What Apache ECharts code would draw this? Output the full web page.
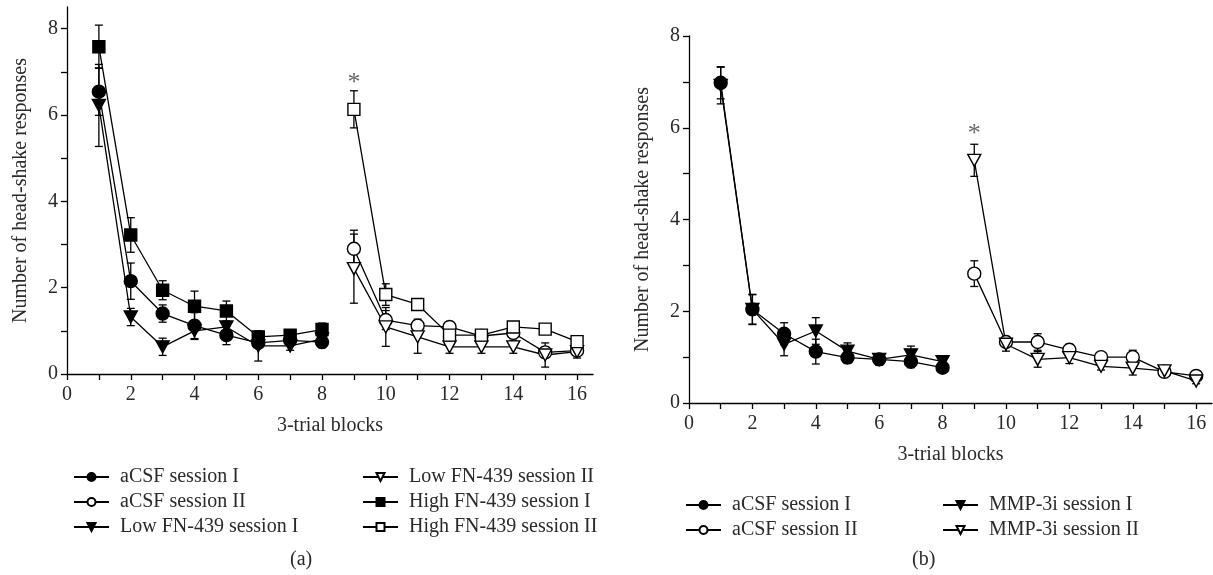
<!DOCTYPE html>
<html>
<head>
<meta charset="utf-8">
<script src="https://cdn.jsdelivr.net/npm/echarts@6/dist/echarts.min.js"></script>
<style>
html,body{margin:0;padding:0;background:#fff;}
#chart{width:1213px;height:575px;}
</style>
</head>
<body>
<div id="chart"></div>
<script>
// ---------- data ----------
var blocksI = [1, 2, 3, 4, 5, 6, 7, 8];
var blocksII = [9, 10, 11, 12, 13, 14, 15, 16];
var xTickLabels = [0, 2, 4, 6, 8, 10, 12, 14, 16];
var yTickLabels = [0, 2, 4, 6, 8];

// panel (a)
var a_aCSF_I = [6.54, 2.15, 1.40, 1.12, 0.90, 0.72, 0.78, 0.74];
var a_aCSF_I_err = [0.55, 0.42, 0.20, 0.30, 0.22, 0.10, 0.10, 0.13];
var a_aCSF_II = [2.90, 1.25, 1.12, 1.09, 0.88, 0.95, 0.50, 0.54];
var a_aCSF_II_err = [0.43, 0.22, 0.15, 0.10, 0.08, 0.10, 0.12, 0.10];
var a_Low_I = [6.22, 1.32, 0.63, 1.00, 1.09, 0.65, 0.65, 0.81];
var a_Low_I_err = [0.95, 0.20, 0.20, 0.20, 0.10, 0.35, 0.10, 0.08];
var a_Low_II = [2.44, 1.09, 0.86, 0.63, 0.63, 0.63, 0.44, 0.52];
var a_Low_II_err = [0.80, 0.45, 0.38, 0.15, 0.15, 0.15, 0.28, 0.15];
var a_High_I = [7.58, 3.22, 1.94, 1.57, 1.46, 0.86, 0.90, 1.03];
var a_High_I_err = [0.50, 0.40, 0.22, 0.35, 0.23, 0.10, 0.12, 0.15];
var a_High_II = [6.13, 1.84, 1.61, 0.90, 0.90, 1.09, 1.04, 0.75];
var a_High_II_err = [0.43, 0.25, 0.13, 0.12, 0.10, 0.12, 0.12, 0.08];

// panel (b)
var b_aCSF_I = [6.98, 2.04, 1.51, 1.12, 0.99, 0.95, 0.90, 0.77];
var b_aCSF_I_err = [0.35, 0.33, 0.24, 0.27, 0.12, 0.12, 0.13, 0.08];
var b_aCSF_II = [2.82, 1.33, 1.33, 1.16, 1.00, 1.00, 0.68, 0.59];
var b_aCSF_II_err = [0.28, 0.12, 0.18, 0.12, 0.08, 0.15, 0.10, 0.06];
var b_MMP_I = [6.92, 2.04, 1.28, 1.57, 1.13, 0.95, 1.05, 0.90];
var b_MMP_I_err = [0.40, 0.32, 0.25, 0.29, 0.18, 0.12, 0.19, 0.06];
var b_MMP_II = [5.29, 1.28, 0.95, 0.99, 0.80, 0.76, 0.70, 0.48];
var b_MMP_II_err = [0.35, 0.15, 0.17, 0.13, 0.08, 0.15, 0.10, 0.06];

// significance markers
var starA = [9, 6.74];
var starB = [9, 5.87];

// ---------- helpers ----------
var FONT = 'Liberation Serif';
var TXT = '#2a2a2a';
var TRI_DOWN = 'path://M0,0L10,0L5,9Z';

function pts(xs, ys) { return xs.map(function (x, i) { return [x, ys[i]]; }); }

function lineSeries(name, xs, ys, symbol, filled, gi) {
  return {
    name: name, type: 'line', xAxisIndex: gi, yAxisIndex: gi,
    data: pts(xs, ys),
    symbol: symbol,
    symbolSize: symbol === TRI_DOWN ? [13, 12] : (symbol === 'rect' ? 12 : 13),
    showAllSymbol: true,
    lineStyle: { color: '#000', width: 1.3 },
    itemStyle: { color: filled ? '#000' : '#fff', borderColor: '#000', borderWidth: 1.4 },
    z: 3, animation: false
  };
}

function errSeries(xs, ys, es, gi) {
  return {
    type: 'custom', xAxisIndex: gi, yAxisIndex: gi, z: 2, animation: false,
    data: xs.map(function (x, i) { return [x, ys[i] - es[i], ys[i] + es[i]]; }),
    encode: { x: 0, y: [1, 2] },
    renderItem: function (params, api) {
      var x = api.value(0);
      var top = api.coord([x, api.value(2)]);
      var bot = api.coord([x, api.value(1)]);
      var w = 4;
      var st = { stroke: '#000', lineWidth: 1.3 };
      return {
        type: 'group',
        children: [
          { type: 'line', shape: { x1: top[0], y1: top[1], x2: bot[0], y2: bot[1] }, style: st },
          { type: 'line', shape: { x1: top[0] - w, y1: top[1], x2: top[0] + w, y2: top[1] }, style: st },
          { type: 'line', shape: { x1: bot[0] - w, y1: bot[1], x2: bot[0] + w, y2: bot[1] }, style: st }
        ]
      };
    }
  };
}

function starSeries(p, gi) {
  return {
    type: 'scatter', xAxisIndex: gi, yAxisIndex: gi, animation: false,
    data: [p], symbolSize: 1, itemStyle: { color: 'rgba(0,0,0,0)' },
    label: { show: true, position: 'inside', formatter: '*', fontFamily: FONT, fontSize: 26, color: '#444' },
    z: 4
  };
}

function xAxisDef(gi) {
  return {
    type: 'value', gridIndex: gi, min: 0, max: 16.5,
    name: '3-trial blocks', nameLocation: 'middle', nameGap: 42,
    nameTextStyle: { fontFamily: FONT, fontSize: 20, color: TXT },
    axisLine: { onZero: false, lineStyle: { color: '#000', width: 1.3 } },
    axisTick: { show: true, length: 6, lineStyle: { color: '#000', width: 1.3 },
      customValues: [0,1,2,3,4,5,6,7,8,9,10,11,12,13,14,15,16] },
    axisLabel: { fontFamily: FONT, fontSize: 20, color: TXT, margin: 11, customValues: xTickLabels },
    splitLine: { show: false }
  };
}

function yAxisDef(gi, max) {
  return {
    type: 'value', gridIndex: gi, min: 0, max: max,
    name: 'Number of head-shake responses', nameLocation: 'middle', nameGap: 36,
    nameTextStyle: { fontFamily: FONT, fontSize: 20, color: TXT },
    axisLine: { show: true, onZero: false, lineStyle: { color: '#000', width: 1.3 } },
    axisTick: { show: true, length: 6, lineStyle: { color: '#000', width: 1.3 },
      customValues: [0,1,2,3,4,5,6,7,8] },
    axisLabel: { fontFamily: FONT, fontSize: 20, color: TXT, margin: 9, customValues: yTickLabels },
    splitLine: { show: false }
  };
}

function legendDef(names, left, top) {
  return {
    data: names, orient: 'vertical', left: left, top: top,
    itemWidth: 35, itemHeight: 10, itemGap: 5, selectedMode: false,
    textStyle: { fontFamily: FONT, fontSize: 20, color: TXT, lineHeight: 20, padding: [0, 0, 0, 6] }
  };
}

var chart = echarts.init(document.getElementById('chart'), null, { renderer: 'canvas' });
chart.setOption({
  animation: false,
  backgroundColor: '#fff',
  grid: [
    { left: 67, right: 620, top: 7, bottom: 201 },
    { left: 689, right: 1, top: 36, bottom: 172 }
  ],
  xAxis: [xAxisDef(0), xAxisDef(1)],
  yAxis: [yAxisDef(0, 8.5), yAxisDef(1, 8)],
  legend: [
    legendDef(['aCSF session I', 'aCSF session II', 'Low FN-439 session I'], 68, 462),
    legendDef(['Low FN-439 session II', 'High FN-439 session I', 'High FN-439 session II'], 357, 462),
    legendDef(['aCSF session I', 'aCSF session II'], 680, 490),
    legendDef(['MMP-3i session I', 'MMP-3i session II'], 937, 490)
  ],
  graphic: [
    { type: 'text', left: 290, top: 550, style: { text: '(a)', font: '20px "Liberation Serif"', fill: TXT } },
    { type: 'text', left: 912, top: 550, style: { text: '(b)', font: '20px "Liberation Serif"', fill: TXT } }
  ],
  series: [
    errSeries(blocksI, a_aCSF_I, a_aCSF_I_err, 0),
    errSeries(blocksII, a_aCSF_II, a_aCSF_II_err, 0),
    errSeries(blocksI, a_Low_I, a_Low_I_err, 0),
    errSeries(blocksII, a_Low_II, a_Low_II_err, 0),
    errSeries(blocksI, a_High_I, a_High_I_err, 0),
    errSeries(blocksII, a_High_II, a_High_II_err, 0),
    lineSeries('aCSF session I', blocksI, a_aCSF_I, 'circle', true, 0),
    lineSeries('aCSF session II', blocksII, a_aCSF_II, 'circle', false, 0),
    lineSeries('Low FN-439 session I', blocksI, a_Low_I, TRI_DOWN, true, 0),
    lineSeries('Low FN-439 session II', blocksII, a_Low_II, TRI_DOWN, false, 0),
    lineSeries('High FN-439 session I', blocksI, a_High_I, 'rect', true, 0),
    lineSeries('High FN-439 session II', blocksII, a_High_II, 'rect', false, 0),
    starSeries(starA, 0),

    errSeries(blocksI, b_aCSF_I, b_aCSF_I_err, 1),
    errSeries(blocksII, b_aCSF_II, b_aCSF_II_err, 1),
    errSeries(blocksI, b_MMP_I, b_MMP_I_err, 1),
    errSeries(blocksII, b_MMP_II, b_MMP_II_err, 1),
    lineSeries('aCSF session I', blocksI, b_aCSF_I, 'circle', true, 1),
    lineSeries('aCSF session II', blocksII, b_aCSF_II, 'circle', false, 1),
    lineSeries('MMP-3i session I', blocksI, b_MMP_I, TRI_DOWN, true, 1),
    lineSeries('MMP-3i session II', blocksII, b_MMP_II, TRI_DOWN, false, 1),
    starSeries(starB, 1)
  ]
});
</script>
</body>
</html>
